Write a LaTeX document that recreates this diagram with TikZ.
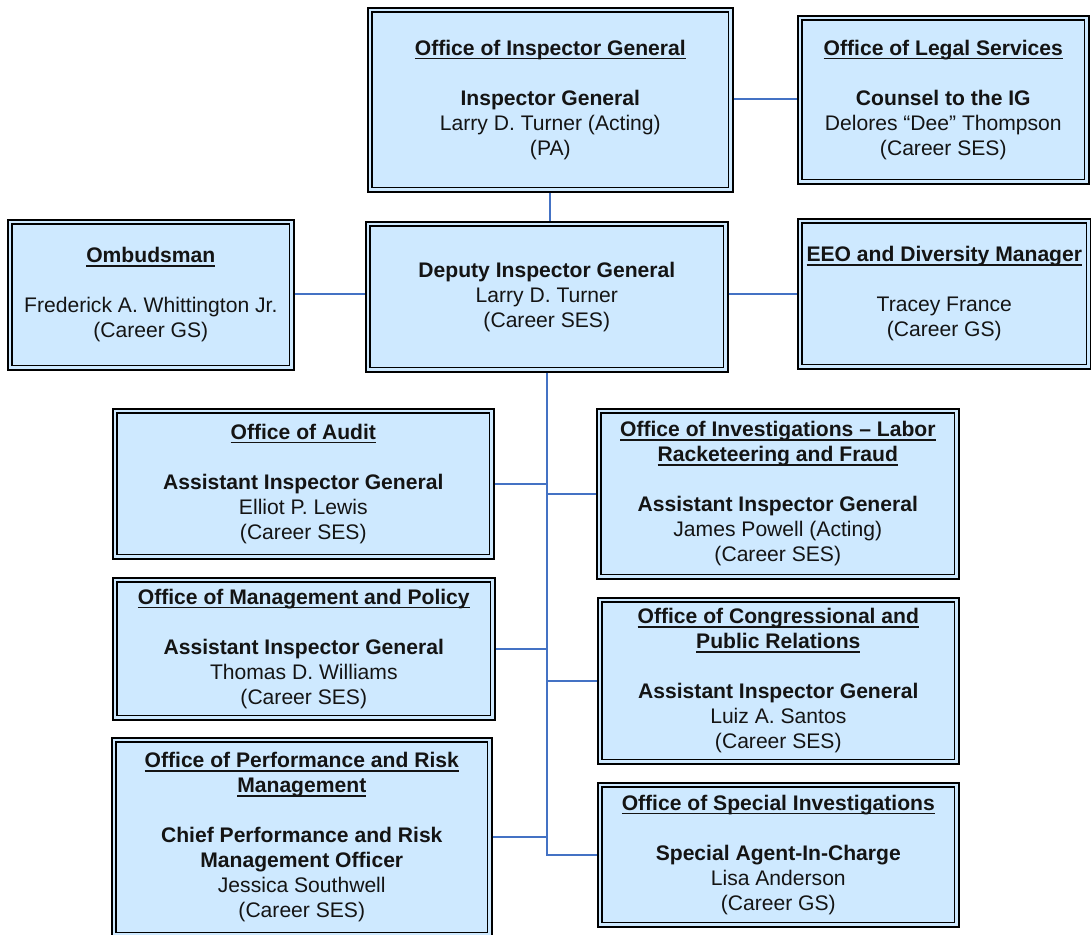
\documentclass[tikz,border=0pt]{standalone}
\usepackage{fontspec}
\setmainfont{Liberation Sans}
\definecolor{boxfill}{RGB}{206,233,255}
\definecolor{linkblue}{RGB}{68,114,196}
\definecolor{txt}{RGB}{20,20,20}
\newcommand{\ulx}[1]{\setbox0\hbox{#1}\rlap{\rule[-4pt]{\wd0}{1.5pt}}\box0}
\begin{document}
\begin{tikzpicture}[x=1pt,y=-1pt,
  orgbox/.style={draw=black, line width=1.6pt, fill=boxfill, inner sep=0pt,
    align=center, anchor=north west, text=txt,
    font=\fontsize{21.1}{25}\selectfont},
  link/.style={draw=linkblue, line width=1.5pt},
  innerline/.style={draw=black, line width=1.1pt}]
\useasboundingbox (0,0) rectangle (1091,934);

\node[orgbox, minimum width=365pt, minimum height=184pt] (oig) at (367,7)
  {\ulx{\textbf{Office of Inspector General}}\\[25pt]\textbf{Inspector General}\\Larry D. Turner (Acting)\\(PA)};
\node[orgbox, minimum width=291pt, minimum height=168pt] (legal) at (797,15)
  {\ulx{\textbf{Office of Legal Services}}\\[25pt]\textbf{Counsel to the IG}\\Delores “Dee” Thompson\\(Career SES)};
\node[orgbox, minimum width=286pt, minimum height=150pt] (ombud) at (7,219)
  {\ulx{\textbf{Ombudsman}}\\[25pt]Frederick A. Whittington Jr.\\(Career GS)};
\node[orgbox, minimum width=362pt, minimum height=150pt] (deputy) at (365,221)
  {\textbf{Deputy Inspector General}\\Larry D. Turner\\(Career SES)};
\node[orgbox, minimum width=293pt, minimum height=150pt] (eeo) at (797,218)
  {\ulx{\textbf{EEO and Diversity Manager}}\\[25pt]Tracey France\\(Career GS)};
\node[orgbox, minimum width=381pt, minimum height=150pt] (audit) at (112,408)
  {\ulx{\textbf{Office of Audit}}\\[25pt]\textbf{Assistant Inspector General}\\Elliot P. Lewis\\(Career SES)};
\node[orgbox, minimum width=362pt, minimum height=170pt] (inv) at (596,408)
  {\ulx{\textbf{Office of Investigations -- Labor}}\\\ulx{\textbf{Racketeering and Fraud}}\\[25pt]\textbf{Assistant Inspector General}\\James Powell (Acting)\\(Career SES)};
\node[orgbox, minimum width=382pt, minimum height=142pt] (mgmt) at (112,577)
  {\ulx{\textbf{Office of Management and Policy}}\\[25pt]\textbf{Assistant Inspector General}\\Thomas D. Williams\\(Career SES)};
\node[orgbox, minimum width=361pt, minimum height=166pt] (cong) at (597,597)
  {\ulx{\textbf{Office of Congressional and}}\\\ulx{\textbf{Public Relations}}\\[25pt]\textbf{Assistant Inspector General}\\Luiz A. Santos\\(Career SES)};
\node[orgbox, minimum width=380pt, minimum height=199pt] (perf) at (111,737)
  {\ulx{\textbf{Office of Performance and Risk}}\\\ulx{\textbf{Management}}\\[25pt]\textbf{Chief Performance and Risk}\\\textbf{Management Officer}\\Jessica Southwell\\(Career SES)};
\node[orgbox, minimum width=361pt, minimum height=144pt] (spec) at (597,782)
  {\ulx{\textbf{Office of Special Investigations}}\\[25pt]\textbf{Special Agent-In-Charge}\\Lisa Anderson\\(Career GS)};

\foreach \n in {oig,legal,ombud,deputy,eeo,audit,inv,mgmt,cong,perf,spec}
  \draw[innerline] ([shift={(5pt,-5pt)}]\n.north west) rectangle ([shift={(-5pt,5pt)}]\n.south east);

\draw[link] (oig.south -| 550,0) -- (deputy.north -| 550,0);
\draw[link] (oig.east |- 0,99) -- (legal.west |- 0,99);
\draw[link] (ombud.east |- 0,294) -- (deputy.west |- 0,294);
\draw[link] (deputy.east |- 0,294) -- (eeo.west |- 0,294);
\draw[link] (deputy.south) -- (deputy.south |- spec.west) -- (spec.west);
\draw[link] (audit.east) -- (audit.east -| deputy.south);
\draw[link] (inv.west) -- (inv.west -| deputy.south);
\draw[link] (mgmt.east) -- (mgmt.east -| deputy.south);
\draw[link] (cong.west) -- (cong.west -| deputy.south);
\draw[link] (perf.east |- 0,837) -- (deputy.south |- 0,837);
\end{tikzpicture}
\end{document}
